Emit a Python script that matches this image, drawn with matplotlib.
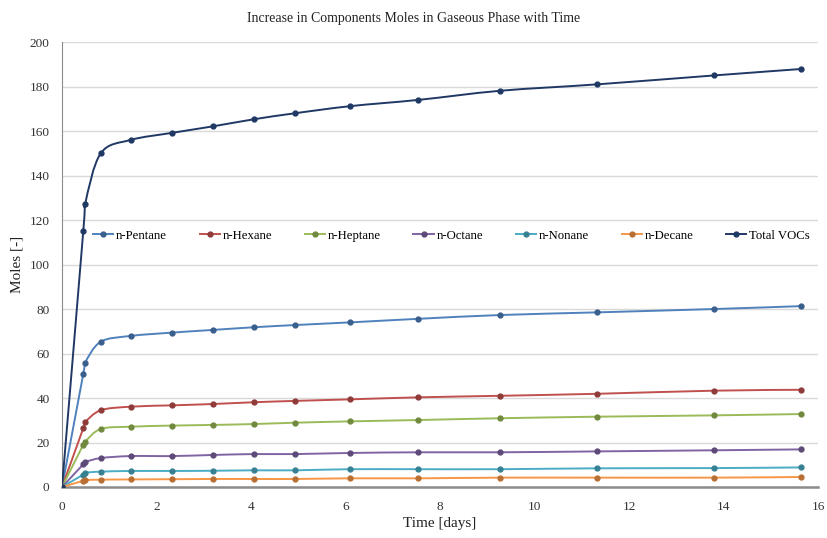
import numpy as np
import matplotlib
matplotlib.use("Agg")
import matplotlib.pyplot as plt
from matplotlib.path import Path
from matplotlib.patches import PathPatch
from matplotlib.lines import Line2D

plt.rcParams["font.family"] = ["Liberation Serif", "DejaVu Serif"]

# sampling times in days
time_days = [0, 0.45, 0.49, 0.82, 1.45, 2.33, 3.19, 4.06, 4.93, 6.10, 7.54, 9.27, 11.33, 13.80, 15.64]

n_pentane = [0, 50.8, 55.9, 65.3, 67.9, 69.4, 70.6, 71.8, 72.8, 74.0, 75.6, 77.3, 78.5, 80.0, 81.3]
n_hexane = [0, 26.4, 29.1, 34.5, 36.1, 36.7, 37.3, 38.1, 38.7, 39.4, 40.3, 41.0, 41.9, 43.3, 43.7]
n_heptane = [0, 19.0, 20.4, 26.1, 27.1, 27.6, 27.9, 28.3, 28.9, 29.5, 30.1, 30.9, 31.6, 32.2, 32.8]
n_octane = [0, 10.2, 11.2, 13.0, 13.9, 13.9, 14.4, 14.8, 14.8, 15.3, 15.6, 15.6, 16.0, 16.5, 16.9]
n_nonane = [0, 5.6, 6.4, 6.9, 7.2, 7.2, 7.3, 7.5, 7.5, 8.0, 8.0, 8.0, 8.4, 8.5, 8.8]
n_decane = [0, 2.8, 3.1, 3.3, 3.4, 3.5, 3.6, 3.6, 3.6, 3.9, 3.9, 4.2, 4.2, 4.2, 4.5]
total_vocs = [0, 115.0, 127.2, 150.0, 156.0, 159.2, 162.1, 165.3, 168.0, 171.2, 174.0, 178.1, 181.0, 185.0, 187.9]

labels = ["n-Pentane", "n-Hexane", "n-Heptane", "n-Octane", "n-Nonane", "n-Decane", "Total VOCs"]
series = [n_pentane, n_hexane, n_heptane, n_octane, n_nonane, n_decane, total_vocs]
colors = ["#4F81BD", "#C0504D", "#9BBB59", "#8064A2", "#4BACC6", "#F79646", "#1F3864"]
marker_colors = ["#3A5F8C", "#8E3B39", "#71893F", "#5E4A78", "#378092", "#B86F33", "#1F3864"]


# smooth line through the points, drawn as cubic bezier segments (catmull-rom style)
def smooth_path(x, y):
	pts = np.column_stack([x, y]).astype(float)
	verts = [pts[0]]
	codes = [Path.MOVETO]
	n = len(pts)
	for i in range(n - 1):
		p0 = pts[i - 1] if i > 0 else pts[i]
		p1 = pts[i]
		p2 = pts[i + 1]
		p3 = pts[i + 2] if i + 2 < n else pts[i + 1]
		c1 = p1 + (p2 - p0) / 6.0
		c2 = p2 - (p3 - p1) / 6.0
		verts += [c1, c2, p2]
		codes += [Path.CURVE4] * 3
	return Path(verts, codes)


fig = plt.figure(figsize=(8.28, 5.38), dpi=100)
ax = fig.add_axes([0.0749, 0.0948, 0.913, 0.827])

handles = []
for vals, lab, col, mcol in zip(series, labels, colors, marker_colors):
	ax.add_patch(PathPatch(smooth_path(time_days, vals), facecolor="none", edgecolor=col, lw=1.4, zorder=3))
	ax.plot(time_days, vals, linestyle="none", marker="o", ms=3.5, color=mcol, zorder=4)
	handles.append(Line2D([0], [0], color=col, lw=1.4, marker="o", ms=3.5, markerfacecolor=mcol, markeredgecolor=mcol))

ax.set_xlim(0, 16)
ax.set_ylim(0, 200)
ax.set_xticks(range(0, 17, 2))
ax.set_yticks(range(0, 201, 20))
ax.grid(True, axis="y", color="#D9D9D9", lw=1)
ax.set_axisbelow(True)

for side in ["top", "right"]:
	ax.spines[side].set_visible(False)
ax.spines["left"].set_color("#8C8C8C")
ax.spines["bottom"].set_color("#8C8C8C")
ax.spines["bottom"].set_linewidth(1.8)
ax.tick_params(axis="both", length=0, labelsize=9.5, colors="#333333")
ax.tick_params(axis="x", pad=10)
ax.tick_params(axis="y", pad=9)

ax.set_xlabel("Time [days]", fontsize=11, color="#222222", labelpad=3)
ax.set_ylabel("Moles [-]", fontsize=11, color="#222222", labelpad=4)
fig.suptitle("Increase in Components Moles in Gaseous Phase with Time", fontsize=10, color="#222222", y=0.978)

ax.legend(handles, labels, loc="center", bbox_to_anchor=(0.515, 0.565), ncol=7, frameon=False,
	fontsize=9.2, handlelength=1.6, handletextpad=0.2, columnspacing=2.55)

fig.savefig("out.png", dpi=100)
